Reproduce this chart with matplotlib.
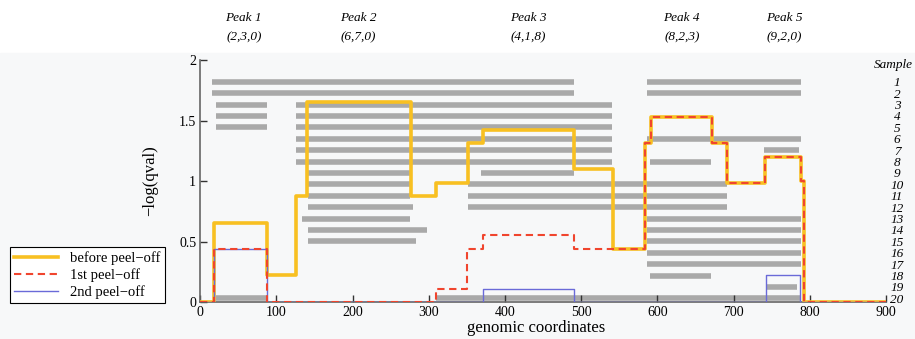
import numpy as np
import matplotlib
matplotlib.use("Agg")
import matplotlib.pyplot as plt
from matplotlib.transforms import blended_transform_factory

plt.rcParams['font.family'] = 'serif'
plt.rcParams['font.serif'] = ['Liberation Serif', 'DejaVu Serif']

# sample segments (genomic start, end) for samples 1..20
segments = [
    [(16, 490), (586, 789)],
    [(16, 490), (586, 789)],
    [(20, 88), (126, 541)],
    [(20, 88), (126, 541)],
    [(20, 88), (126, 541)],
    [(126, 541), (586, 789)],
    [(126, 541), (740, 786)],
    [(126, 541), (590, 670)],
    [(142, 275), (369, 491)],
    [(142, 275), (352, 691)],
    [(142, 275), (352, 691)],
    [(142, 279), (352, 691)],
    [(133, 275), (586, 789)],
    [(142, 297), (586, 789)],
    [(142, 283), (586, 789)],
    [(586, 789)],
    [(586, 789)],
    [(590, 670)],
    [(742, 783)],
    [(20, 88), (310, 789)],
]

# step curves: edges and levels of -log(qval)
before_edges = [0, 18, 88, 126, 140, 276, 310, 351, 371, 491, 542, 584, 591, 672, 691, 741, 789, 793, 900]
before_vals = [0, 0.65, 0.22, 0.876, 1.655, 0.876, 0.986, 1.317, 1.42, 1.097, 0.435, 1.31, 1.53, 1.317, 0.98, 1.2, 1.0, 0]

first_edges = [0, 18, 88, 309, 350, 371, 491, 584, 591, 672, 691, 741, 789, 793, 900]
first_vals = [0, 0.435, 0, 0.107, 0.44, 0.553, 0.435, 1.31, 1.53, 1.317, 0.98, 1.2, 1.0, 0]

second_edges = [0, 18, 88, 371, 491, 742, 787, 900]
second_vals = [0, 0.435, 0, 0.11, 0, 0.22, 0]

peak_names = ['Peak 1', 'Peak 2', 'Peak 3', 'Peak 4', 'Peak 5']
peak_counts = ['(2,3,0)', '(6,7,0)', '(4,1,8)', '(8,2,3)', '(9,2,0)']
peak_pos = [57, 207, 431, 632, 766]

fig = plt.figure(figsize=(9.15, 3.39), dpi=100)
fig.patches.append(plt.Rectangle((0, 0), 1, 0.844, transform=fig.transFigure,
                                 color='#f7f8f9', zorder=-1))

ax = fig.add_axes([0.2189, 0.1091, 0.7494, 0.7139])
ax2 = ax.twinx()
ax.set_zorder(ax2.get_zorder() + 1)
ax.patch.set_visible(False)
ax2.patch.set_visible(False)

# sample bars on the twin axis
for i, segs in enumerate(segments):
    for s, e in segs:
        ax2.hlines(i + 1, s, e, color='#a9a9a9', lw=4, capstyle='butt')
ax2.set_ylim(20.32, -0.911)
ax2.set_yticks(range(1, 21))
ax2.set_yticklabels([str(i) for i in range(1, 21)], fontsize=9.5, style='italic')
ax2.tick_params(axis='y', length=0, pad=8)
for lab in ax2.get_yticklabels():
    lab.set_ha('center')
for sp in ax2.spines.values():
    sp.set_visible(False)
fig.text(913 / 915, 1 - 65 / 339, 'Sample', fontsize=9.5, style='italic', ha='right', va='center')

# curves
ax.step(before_edges, np.append(before_vals, before_vals[-1]), where='post',
        color='#f8c022', lw=2.6, label='before peel\u2212off', zorder=3)
ax.step(second_edges, np.append(second_vals, second_vals[-1]), where='post',
        color='#6a6ad8', lw=1.0, label='2nd peel\u2212off', zorder=4)
ax.step(first_edges, np.append(first_vals, first_vals[-1]), where='post',
        color='#f0452e', lw=1.5, dashes=(3.5, 2.2), label='1st peel\u2212off', zorder=5)

ax.set_xlim(0, 900)
ax.set_ylim(0, 2)
ax.set_xticks(range(0, 901, 100))
ax.set_yticks([0, 0.5, 1, 1.5, 2])
ax.set_yticklabels(['0', '0.5', '1', '1.5', '2'])
ax.tick_params(direction='in', length=5, width=1, color='#333333', labelsize=10, pad=3)
for side in ['top', 'right']:
    ax.spines[side].set_visible(False)
for side in ['left', 'bottom']:
    ax.spines[side].set_color('#666666')
    ax.spines[side].set_linewidth(1.2)

ax.set_ylabel('\u2212log(qval)', fontsize=12)
ax.yaxis.set_label_coords(-0.062, 0.5)
ax.set_xlabel('genomic coordinates', fontsize=12)
ax.xaxis.set_label_coords(0.49, -0.075)

# peak labels
trans = blended_transform_factory(ax.transData, fig.transFigure)
for name, cnt, xp in zip(peak_names, peak_counts, peak_pos):
    ax.text(xp, 1 - 18 / 339, name, transform=trans, ha='center', va='center',
            fontsize=9.5, style='italic')
    ax.text(xp, 1 - 37 / 339, cnt, transform=trans, ha='center', va='center',
            fontsize=9.5, style='italic')

# legend
h, l = ax.get_legend_handles_labels()
order = [0, 2, 1]
leg = fig.legend([h[k] for k in order], [l[k] for k in order], loc='lower left',
                 bbox_to_anchor=(0.011, 0.106), borderaxespad=0, fontsize=10.5,
                 frameon=True, fancybox=False, edgecolor='black', framealpha=1,
                 handlelength=3.0, labelspacing=0.2, borderpad=0.3)
leg.get_frame().set_linewidth(0.8)

fig.savefig('out.png', dpi=100)
